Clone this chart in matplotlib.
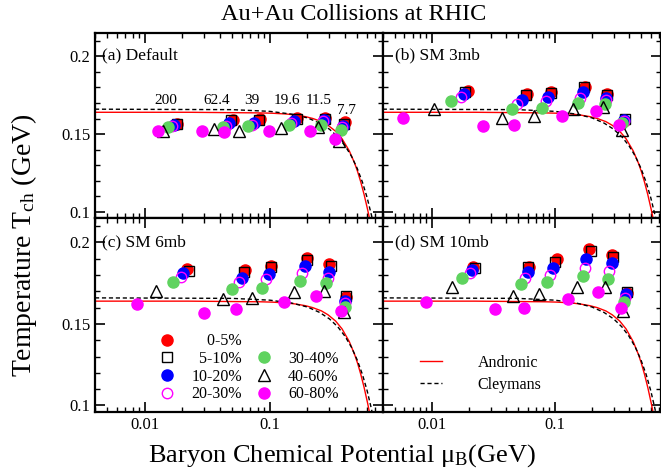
import numpy as np
import matplotlib
matplotlib.use('Agg')
import matplotlib.pyplot as plt
from matplotlib.lines import Line2D
from matplotlib.ticker import FixedLocator, MultipleLocator, LogLocator, FuncFormatter, NullFormatter

plt.rcParams['font.family'] = ['Liberation Serif', 'DejaVu Serif']
plt.rcParams['mathtext.fontset'] = 'custom'
plt.rcParams['mathtext.rm'] = 'Liberation Serif'
plt.rcParams['mathtext.it'] = 'Liberation Serif:italic'

# --- data: rows = centrality, cols = sqrt(s) 200, 62.4, 39, 19.6, 11.5, 7.7 GeV ---
ENERGIES = ['200', '62.4', '39', '19.6', '11.5', '7.7']
CENTRALITY = ['0-5%', '5-10%', '10-20%', '20-30%', '30-40%', '40-60%', '60-80%']
PANEL_TITLES = ['(a) Default', '(b) SM 3mb', '(c) SM 6mb', '(d) SM 10mb']

MU_A = [[0.0181, 0.0504, 0.0834, 0.1664, 0.2786, 0.397],
        [0.0180, 0.0489, 0.0819, 0.1644, 0.2756, 0.3915],
        [0.0171, 0.0468, 0.0747, 0.1548, 0.2707, 0.384],
        [0.0164, 0.0447, 0.0717, 0.1484, 0.264, 0.380],
        [0.0154, 0.042, 0.0674, 0.1413, 0.259, 0.3728],
        [0.0139, 0.0361, 0.0562, 0.1229, 0.2439, 0.3556],
        [0.01286, 0.0285, 0.0433, 0.0982, 0.2097, 0.334]]
T_A = [[0.1566, 0.1592, 0.1596, 0.1601, 0.1603, 0.1577],
       [0.1566, 0.1588, 0.1588, 0.1599, 0.1599, 0.1566],
       [0.1557, 0.1570, 0.1570, 0.1583, 0.1592, 0.1555],
       [0.1553, 0.1555, 0.1560, 0.1570, 0.1583, 0.1544],
       [0.1544, 0.1544, 0.1549, 0.1560, 0.1560, 0.1527],
       [0.1520, 0.1530, 0.1522, 0.1538, 0.1544, 0.1457],
       [0.1522, 0.1518, 0.1516, 0.1518, 0.1518, 0.1468]]

MU_B = [[0.0197, 0.0592, 0.0938, 0.1755, 0.2625, 0.365],
        [0.0186, 0.0584, 0.0926, 0.173, 0.2665, 0.3685],
        [0.0182, 0.054, 0.0871, 0.169, 0.26, 0.362],
        [0.01713, 0.0495, 0.0844, 0.161, 0.258, 0.362],
        [0.01424, 0.0451, 0.078, 0.1542, 0.255, 0.353],
        [0.01047, 0.0373, 0.0673, 0.1406, 0.2475, 0.3532],
        [0.00584, 0.0263, 0.0466, 0.1148, 0.2148, 0.33]]
T_B = [[0.1779, 0.1757, 0.1772, 0.1805, 0.1757, 0.1585],
       [0.1772, 0.1751, 0.1766, 0.1800, 0.1751, 0.1599],
       [0.1757, 0.1718, 0.1736, 0.1772, 0.1730, 0.1592],
       [0.1740, 0.1692, 0.1714, 0.1730, 0.1718, 0.1583],
       [0.1714, 0.1660, 0.1670, 0.1701, 0.1692, 0.1570],
       [0.1664, 0.1605, 0.1614, 0.1658, 0.1675, 0.1527],
       [0.1605, 0.1555, 0.1560, 0.1614, 0.1646, 0.1560]]

MU_C = [[0.0216, 0.0631, 0.1031, 0.1966, 0.300, 0.4036],
        [0.0225, 0.0623, 0.1031, 0.1989, 0.3057, 0.4036],
        [0.0203, 0.0600, 0.0987, 0.1905, 0.2974, 0.400],
        [0.01965, 0.0565, 0.0929, 0.1814, 0.2927, 0.398],
        [0.01685, 0.050, 0.0874, 0.1738, 0.281, 0.398],
        [0.0124, 0.0423, 0.0727, 0.1556, 0.272, 0.3908],
        [0.00874, 0.0298, 0.0541, 0.1294, 0.2362, 0.3676]]
T_C = [[0.1836, 0.1828, 0.1858, 0.1904, 0.1869, 0.1665],
       [0.1826, 0.1821, 0.1852, 0.1893, 0.1858, 0.1672],
       [0.1811, 0.1785, 0.1807, 0.1858, 0.1821, 0.1641],
       [0.1791, 0.1756, 0.1775, 0.1811, 0.1785, 0.1630],
       [0.1756, 0.1715, 0.1723, 0.1764, 0.1750, 0.1602],
       [0.1702, 0.1653, 0.1657, 0.1698, 0.1705, 0.1571],
       [0.1622, 0.1565, 0.1590, 0.1633, 0.1674, 0.1579]]

MU_D = [[0.0216, 0.0620, 0.1034, 0.190, 0.293, 0.382],
        [0.02256, 0.061, 0.0996, 0.1959, 0.294, 0.3855],
        [0.0212, 0.0603, 0.0973, 0.1798, 0.2884, 0.3755],
        [0.02057, 0.0567, 0.0916, 0.1765, 0.2763, 0.3685],
        [0.01765, 0.0526, 0.086, 0.169, 0.2679, 0.3643],
        [0.0145, 0.0457, 0.0747, 0.1514, 0.255, 0.358],
        [0.00898, 0.0326, 0.0557, 0.1282, 0.2256, 0.3467]]
T_D = [[0.1852, 0.1852, 0.1898, 0.1959, 0.1920, 0.1687],
       [0.1842, 0.1852, 0.1883, 0.1945, 0.1910, 0.1698],
       [0.1832, 0.1821, 0.1842, 0.1900, 0.1873, 0.1682],
       [0.1811, 0.1785, 0.1801, 0.1846, 0.1826, 0.1661],
       [0.1785, 0.1744, 0.1756, 0.1797, 0.1776, 0.1633],
       [0.1725, 0.1674, 0.1684, 0.1729, 0.1729, 0.1579],
       [0.1637, 0.1590, 0.1600, 0.1653, 0.1694, 0.1600]]

# freeze-out curves
MU_ANDRONIC = [0.004, 0.0224, 0.0846, 0.1041, 0.1352, 0.1589, 0.1928, 0.221, 0.259, 0.2924,
               0.3358, 0.378, 0.432, 0.4776, 0.5043, 0.534, 0.5675, 0.6055, 0.6222, 0.649, 0.678]
T_ANDRONIC = [0.1640, 0.1640, 0.1636, 0.1634, 0.1629, 0.1623, 0.1612, 0.1600, 0.1580, 0.1556,
              0.1518, 0.1470, 0.1392, 0.1311, 0.1257, 0.1191, 0.1111, 0.1014, 0.0969, 0.0895, 0.0814]
MU_CLEYMANS = [0.004, 0.05, 0.1, 0.15, 0.2, 0.25, 0.3, 0.35, 0.4, 0.45, 0.5, 0.55, 0.6, 0.65, 0.7]
T_CLEYMANS = [0.1660, 0.1657, 0.1646, 0.1628, 0.1604, 0.1571, 0.1531, 0.1482, 0.1424,
              0.1357, 0.1279, 0.1191, 0.1091, 0.0978, 0.0850]

# --- styles ---
GREEN = '#5fd35f'
STYLES = [dict(marker='o', mfc='#ff0000', mec='#ff0000', ms=8),
          dict(marker='s', mfc='none', mec='k', ms=7.5, mew=1.0),
          dict(marker='o', mfc='#0000ff', mec='#0000ff', ms=8),
          dict(marker='o', mfc='none', mec='#ff00ff', ms=7.5, mew=1.0),
          dict(marker='o', mfc=GREEN, mec=GREEN, ms=8),
          dict(marker='^', mfc='none', mec='k', ms=8.5, mew=1.0),
          dict(marker='o', mfc='#ff00ff', mec='#ff00ff', ms=8)]

W, H = 661, 474
fig = plt.figure(figsize=(W / 100, H / 100), dpi=100)
gs = fig.add_gridspec(2, 2, left=95 / W, right=660.5 / W, top=1 - 33 / H, bottom=1 - 412 / H,
                      hspace=0, wspace=0, height_ratios=[185, 194], width_ratios=[288, 278])
axes = [fig.add_subplot(gs[0, 0]), fig.add_subplot(gs[0, 1]),
        fig.add_subplot(gs[1, 0]), fig.add_subplot(gs[1, 1])]
XMAX = [0.8, 0.72, 0.8, 0.72]
panel_mu = [MU_A, MU_B, MU_C, MU_D]
panel_t = [T_A, T_B, T_C, T_D]

handles = []
for k, ax in enumerate(axes):
    ax.plot(MU_ANDRONIC, T_ANDRONIC, '-', color='#ff0000', lw=1.0, zorder=2)
    ax.plot(MU_CLEYMANS, T_CLEYMANS, '--', color='k', lw=1.0, dashes=(3, 2), zorder=2)
    hs = []
    for i in range(len(CENTRALITY)):
        h, = ax.plot(panel_mu[k][i], panel_t[k][i], linestyle='none', zorder=3, **STYLES[i])
        hs.append(h)
    if k == 2:
        handles = hs

    ax.set_xscale('log')
    ax.set_xlim(0.004, XMAX[k])
    ax.set_ylim(0.096, 0.215)
    ax.yaxis.set_major_locator(FixedLocator([0.1, 0.15, 0.2]))
    ax.yaxis.set_minor_locator(MultipleLocator(0.01))
    ax.yaxis.set_major_formatter(FuncFormatter(lambda v, p: '%g' % v))
    ax.xaxis.set_major_locator(LogLocator(base=10))
    ax.xaxis.set_minor_locator(LogLocator(base=10, subs=np.arange(2, 10)))
    ax.xaxis.set_major_formatter(FuncFormatter(lambda v, p: '%g' % v))
    ax.xaxis.set_minor_formatter(NullFormatter())
    ax.tick_params(which='both', direction='in', top=True, right=True, labelsize=12)
    ax.tick_params(which='major', length=7, width=1.2)
    ax.tick_params(which='minor', length=3.5, width=1.0)
    for s in ax.spines.values():
        s.set_linewidth(1.6)
    if k in (1, 3):
        ax.tick_params(labelleft=False)
    if k in (0, 1):
        ax.tick_params(labelbottom=False)
    ax.text(0.024 if k in (0, 2) else 0.045, 0.88 if k < 2 else 0.875, PANEL_TITLES[k],
            transform=ax.transAxes, fontsize=12.5, va='center', ha='left')

# energy labels in panel (a)
ax = axes[0]
label_mu = [0.0146, 0.0373, 0.0724, 0.137, 0.244, 0.41]
label_t = [0.1718, 0.1718, 0.1718, 0.1718, 0.1718, 0.1654]
for lab, xm, yt in zip(ENERGIES, label_mu, label_t):
    ax.text(xm, yt, lab, fontsize=11, ha='center', va='center')

# centrality legend in panel (c)
blank = Line2D([], [], linestyle='none', marker='none')
labs = ['    0-5%', '  5-10%', '10-20%', '20-30%', '', '30-40%', '40-60%', '60-80%']
hl = [handles[0], handles[1], handles[2], handles[3], blank, handles[4], handles[5], handles[6]]
axes[2].legend(hl, labs, ncol=2, loc='upper left', bbox_to_anchor=(0.19, 0.455), frameon=False,
               fontsize=11.5, handlelength=1.0, handletextpad=1.0, labelspacing=0.1,
               columnspacing=0.9, borderpad=0.1)

# curve legend in panel (d)
lh = [Line2D([], [], color='#ff0000', lw=1.0),
      Line2D([], [], color='k', lw=1.0, ls='--', dashes=(3, 2))]
axes[3].legend(lh, ['Andronic', 'Cleymans'], loc='upper left', bbox_to_anchor=(0.1, 0.345),
               frameon=False, fontsize=11.5, handlelength=1.4, handletextpad=2.2,
               labelspacing=0.4, borderpad=0.1)

fig.text(354 / W, 1 - 14 / H, 'Au+Au Collisions at RHIC', fontsize=17.5, ha='center', va='center')
fig.text(24 / W, 1 - 245 / H, 'Temperature T$_{\\rm ch}$ (GeV)', fontsize=20, rotation=90,
         ha='center', va='center')
fig.text(342 / W, 1 - 456 / H, 'Baryon Chemical Potential \u03bc$_{\\rm B}$(GeV)', fontsize=19,
         ha='center', va='center')

fig.savefig('out.png', dpi=100)
